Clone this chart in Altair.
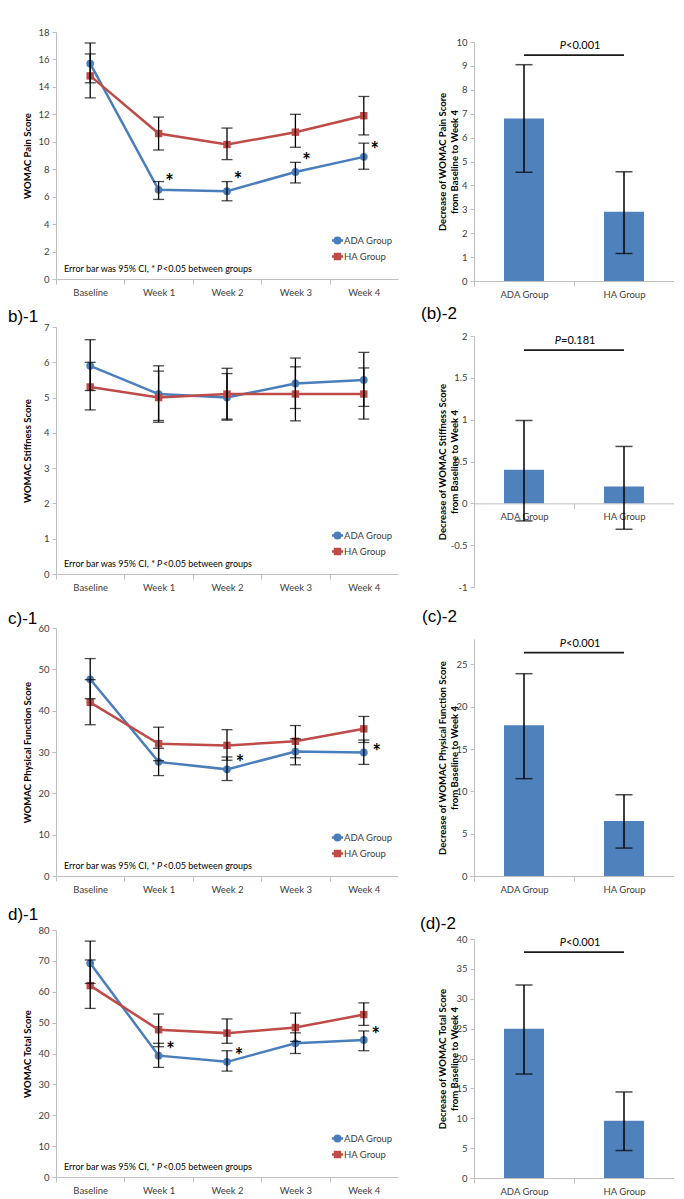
import altair as alt
import pandas as pd

categories = ["Baseline", "Week 1", "Week 2", "Week 3", "Week 4"]
groups = ["ADA Group", "HA Group"]

# (a)-1 WOMAC Pain
pain_ada = [15.7, 6.5, 6.4, 7.8, 8.9]
pain_ada_lo = [14.3, 5.8, 5.7, 7.0, 8.0]
pain_ada_hi = [17.2, 7.1, 7.1, 8.5, 9.9]
pain_ha = [14.8, 10.6, 9.8, 10.7, 11.9]
pain_ha_lo = [13.2, 9.4, 8.7, 9.6, 10.5]
pain_ha_hi = [16.4, 11.8, 11.0, 12.0, 13.3]
pain_star_cats = ["Week 1", "Week 2", "Week 3", "Week 4"]
pain_star_y = [7.4, 7.6, 9.0, 9.8]

# (b)-1 WOMAC Stiffness
stiff_ada = [5.9, 5.1, 5.0, 5.4, 5.5]
stiff_ada_lo = [5.2, 4.3, 4.36, 4.69, 4.75]
stiff_ada_hi = [6.64, 5.9, 5.68, 6.12, 6.28]
stiff_ha = [5.3, 5.0, 5.1, 5.1, 5.1]
stiff_ha_lo = [4.65, 4.35, 4.39, 4.34, 4.39]
stiff_ha_hi = [6.0, 5.75, 5.83, 5.87, 5.84]
stiff_star_cats = []
stiff_star_y = []

# (c)-1 WOMAC Physical Function
func_ada = [47.6, 27.6, 25.8, 30.1, 29.9]
func_ada_lo = [42.9, 24.3, 23.1, 26.9, 27.0]
func_ada_hi = [52.6, 30.9, 28.8, 33.2, 32.9]
func_ha = [42.0, 32.0, 31.6, 32.6, 35.6]
func_ha_lo = [36.6, 27.9, 28.0, 28.6, 32.3]
func_ha_hi = [47.5, 36.0, 35.4, 36.4, 38.6]
func_star_cats = ["Week 2", "Week 4"]
func_star_y = [28.5, 31.3]

# (d)-1 WOMAC Total
total_ada = [69.2, 39.3, 37.3, 43.3, 44.4]
total_ada_lo = [62.7, 35.5, 34.3, 40.0, 40.9]
total_ada_hi = [76.4, 43.3, 40.9, 46.7, 47.3]
total_ha = [62.0, 47.7, 46.6, 48.4, 52.6]
total_ha_lo = [54.6, 42.2, 43.3, 43.9, 49.1]
total_ha_hi = [70.3, 52.8, 51.2, 53.1, 56.4]
total_star_cats = ["Week 1", "Week 2", "Week 4"]
total_star_y = [42.8, 40.7, 47.7]

# Decrease from baseline to week 4 (bar panels)
pain_dec = [6.8, 2.9]
pain_dec_lo = [4.55, 1.15]
pain_dec_hi = [9.05, 4.57]
stiff_dec = [0.4, 0.2]
stiff_dec_lo = [-0.21, -0.31]
stiff_dec_hi = [0.99, 0.68]
func_dec = [17.8, 6.5]
func_dec_lo = [11.5, 3.3]
func_dec_hi = [23.9, 9.6]
total_dec = [25.0, 9.6]
total_dec_lo = [17.4, 4.6]
total_dec_hi = [32.3, 14.4]

p_line_y = {"pain": 9.45, "stiff": 1.83, "func": 26.4, "total": 37.8}
p_text = {"pain": "<0.001", "stiff": "=0.181", "func": "<0.001", "total": "<0.001"}

note_pre = "Error bar was 95% CI, * "
note_p = "P"
note_post = "<0.05 between groups"

# ---------------- style ----------------
BLUE = "#4a7ebb"
RED = "#be4b48"
BAR = "#4f81bd"
AX = "#bfbfbf"
LC = "#404040"
FONT = "Lato"
FS = 9.5
WL = 342
WR = 200
STEP_L = WL / 5

PATH_C = "M-1.4,0H1.4M0.69,0A0.69,0.69 0 1,1 -0.69,0A0.69,0.69 0 1,1 0.69,0Z"
PATH_S = "M-1.4,0H1.4M-0.62,-0.62H0.62V0.62H-0.62Z"

cs = alt.Scale(domain=groups, range=[BLUE, RED])


def one_row(**kw):
    return pd.DataFrame({k: [v] for k, v in kw.items()})


def panel_label(text, dx, dy):
    return alt.Chart(one_row(t=text)).mark_text(
        align="left", baseline="middle", fontSize=17, font="Liberation Sans", color="black"
    ).encode(x=alt.value(dx), y=alt.value(dy), text="t:N")


def line_panel(ada, ada_lo, ada_hi, ha, ha_lo, ha_hi, star_cats, star_y, ytitle,
               ymax, ystep, height, label=None, label_dy=0, star_dx=11):
    rows = []
    for i, c in enumerate(categories):
        rows.append(dict(cat=c, grp=groups[0], val=ada[i], lo=ada_lo[i], hi=ada_hi[i]))
        rows.append(dict(cat=c, grp=groups[1], val=ha[i], lo=ha_lo[i], hi=ha_hi[i]))
    df = pd.DataFrame(rows)

    xaxis = alt.Axis(title=None, labelAngle=0, tickOffset=-STEP_L / 2, labelOffset=STEP_L / 2,
                     domainColor=AX, tickColor=AX, tickSize=5, labelPadding=3,
                     labelFontSize=FS, labelColor=LC, labelFont=FONT)
    xs = alt.Scale(type="point", domain=categories, padding=0.5)

    def X(f):
        return alt.X(f, sort=categories, scale=xs, axis=xaxis)

    ys = alt.Scale(domain=[0, ymax], nice=False)
    yaxis = alt.Axis(values=list(range(0, ymax + 1, ystep)), title=ytitle, grid=False,
                     labelOverlap=False,
                     domainColor=AX, tickColor=AX, tickSize=4, labelPadding=3,
                     labelFontSize=FS, labelColor=LC, labelFont=FONT,
                     titleFont=FONT, titleFontSize=FS, titleFontWeight="bold", titleColor="black",
                     titleX=-29, titleY=height / 2, titleBaseline="middle")

    def Y(f):
        return alt.Y(f, scale=ys, axis=yaxis)

    base = alt.Chart(df).encode(x=X("cat:N"))
    ada_base = base.transform_filter(alt.datum.grp == groups[0])
    ha_base = base.transform_filter(alt.datum.grp == groups[1])
    line_a = ada_base.mark_line(strokeWidth=2.5, color=BLUE).encode(y=Y("val:Q"))
    line_h = ha_base.mark_line(strokeWidth=2.5, color=RED).encode(y=Y("val:Q"))
    ada_pts = ada_base.mark_point(shape="circle", filled=True, size=60, opacity=1, color=BLUE).encode(y=Y("val:Q"))
    ha_pts = ha_base.mark_point(shape="square", filled=True, size=55, opacity=1, color=RED).encode(y=Y("val:Q"))
    err = base.mark_rule(color="black", strokeWidth=1.3).encode(y=Y("lo:Q"), y2="hi:Q")
    cap_lo = base.mark_tick(color="black", size=11, thickness=1.3, orient="horizontal").encode(y=Y("lo:Q"))
    cap_hi = base.mark_tick(color="black", size=11, thickness=1.3, orient="horizontal").encode(y=Y("hi:Q"))

    leg = alt.Legend(title=None, orient="none", legendX=276, legendY=height - 44,
                     symbolSize=64, symbolStrokeWidth=2.5, symbolOpacity=1,
                     labelFontSize=FS, labelColor=LC, labelFont=FONT, labelOffset=1, rowPadding=0)
    legend_layer = base.transform_filter("false").mark_point(filled=True, size=64, strokeWidth=2.5).encode(
        y=Y("val:Q"),
        shape=alt.Shape("grp:N", scale=alt.Scale(domain=groups, range=[PATH_C, PATH_S]), legend=leg),
        fill=alt.Fill("grp:N", scale=cs, legend=leg),
        stroke=alt.Stroke("grp:N", scale=cs, legend=leg))

    note_x = 99
    nfs = 9
    nd = one_row(a=note_pre, b=note_p, c=note_post)
    n1 = alt.Chart(nd).mark_text(align="right", baseline="middle", fontSize=nfs, color="black", font=FONT).encode(
        x=alt.value(note_x), y=alt.value(height - 10), text="a:N")
    n2 = alt.Chart(nd).mark_text(align="left", baseline="middle", fontSize=nfs, color="black", font=FONT,
                                 fontStyle="italic", dx=2).encode(
        x=alt.value(note_x), y=alt.value(height - 10), text="b:N")
    n3 = alt.Chart(nd).mark_text(align="left", baseline="middle", fontSize=nfs, color="black", font=FONT,
                                 dx=8).encode(
        x=alt.value(note_x), y=alt.value(height - 10), text="c:N")

    layers = [line_a, line_h, ada_pts, ha_pts, err, cap_lo, cap_hi, n1, n2, n3]
    if star_cats:
        sd = pd.DataFrame({"cat": star_cats, "sy": star_y})
        stars = alt.Chart(sd).mark_text(text="*", fontSize=20, fontWeight="bold", color="black",
                                        baseline="middle", dx=star_dx, dy=6, font=FONT).encode(
            x=X("cat:N"), y=Y("sy:Q"))
        layers.append(stars)
    if label:
        layers.append(panel_label(label, -48, label_dy))
    layers.append(legend_layer)
    return alt.layer(*layers).properties(width=WL, height=height)


def bar_panel(vals, lo, hi, key, ytitle, ydomain, yvalues, height, label=None,
              label_dx=-52, label_dy=0, zero_axis=False, p_anchor=-8):
    df = pd.DataFrame({"grp": groups, "val": vals, "lo": lo, "hi": hi})
    xaxis_kw = dict(title=None, labelAngle=0, tickOffset=-WR / 4, labelOffset=WR / 4,
                    domainColor=AX, tickColor=AX, tickSize=5, labelPadding=3,
                    labelFontSize=FS, labelColor=LC, labelFont=FONT)
    if zero_axis:
        frac = (0 - ydomain[0]) / (ydomain[1] - ydomain[0])
        xaxis_kw["offset"] = -height * frac
    xaxis = alt.Axis(**xaxis_kw)
    xs = alt.Scale(domain=groups, paddingInner=0, paddingOuter=0)

    def X(f):
        return alt.X(f, sort=groups, scale=xs, axis=xaxis)

    ys = alt.Scale(domain=ydomain, nice=False, zero=False)
    yaxis = alt.Axis(values=yvalues, title=ytitle, grid=False, format="~r", labelOverlap=False,
                     labelExpr="replace(datum.label, '\u2212', '-')",
                     domainColor=AX, tickColor=AX, tickSize=4, labelPadding=3,
                     labelFontSize=FS, labelColor=LC, labelFont=FONT,
                     titleFont=FONT, titleFontSize=FS, titleFontWeight="bold", titleColor="black",
                     titleX=-32, titleY=height / 2, titleBaseline="middle", titleLineHeight=12)

    def Y(f):
        return alt.Y(f, scale=ys, axis=yaxis)

    base = alt.Chart(df).encode(x=X("grp:N"))
    bars = base.mark_bar(size=40, color=BAR).encode(y=Y("val:Q"))
    err = base.mark_rule(color="black", strokeWidth=1.5).encode(y=Y("lo:Q"), y2="hi:Q")
    cap_lo = base.mark_tick(color="black", size=17, thickness=1.5, orient="horizontal").encode(y=Y("lo:Q"))
    cap_hi = base.mark_tick(color="black", size=17, thickness=1.5, orient="horizontal").encode(y=Y("hi:Q"))

    pd_ = one_row(x1=groups[0], x2=groups[1], py=p_line_y[key], p="P", rest=p_text[key])
    pline = alt.Chart(pd_).mark_rule(color="#1a1a1a", strokeWidth=1.8).encode(
        x=X("x1:N"), x2="x2:N", y=Y("py:Q"))
    pt1 = alt.Chart(pd_).mark_text(align="right", baseline="middle", fontSize=11, fontStyle="italic",
                                   color="black", font=FONT, dy=-9).encode(
        x=alt.value(WR / 2 + p_anchor), y=Y("py:Q"), text="p:N")
    pt2 = alt.Chart(pd_).mark_text(align="left", baseline="middle", fontSize=11,
                                   color="black", font=FONT, dy=-9).encode(
        x=alt.value(WR / 2 + p_anchor), y=Y("py:Q"), text="rest:N")

    layers = [bars, err, cap_lo, cap_hi, pline, pt1, pt2]
    if label:
        layers.append(panel_label(label, label_dx, label_dy))
    return alt.layer(*layers).properties(width=WR, height=height)


def spacer(w, h):
    return alt.Chart(one_row(s="")).mark_text(opacity=0).encode(
        x=alt.value(0), y=alt.value(0), text="s:N").properties(width=w, height=h)


a1 = line_panel(pain_ada, pain_ada_lo, pain_ada_hi, pain_ha, pain_ha_lo, pain_ha_hi,
                pain_star_cats, pain_star_y, "WOMAC Pain Score", 18, 2, 247)
b1 = line_panel(stiff_ada, stiff_ada_lo, stiff_ada_hi, stiff_ha, stiff_ha_lo, stiff_ha_hi,
                stiff_star_cats, stiff_star_y, "WOMAC Stiffness Score", 7, 1, 247,
                label="b)-1", label_dy=-10)
c1 = line_panel(func_ada, func_ada_lo, func_ada_hi, func_ha, func_ha_lo, func_ha_hi,
                func_star_cats, func_star_y, "WOMAC Physical Function Score", 60, 10, 248,
                label="c)-1", label_dy=-9, star_dx=13)
d1 = line_panel(total_ada, total_ada_lo, total_ada_hi, total_ha, total_ha_lo, total_ha_hi,
                total_star_cats, total_star_y, "WOMAC Total Score", 80, 10, 247,
                label="d)-1", label_dy=-15, star_dx=12)

a2 = bar_panel(pain_dec, pain_dec_lo, pain_dec_hi, "pain",
               ["Decrease of WOMAC Pain Score", "from Baseline to Week 4"],
               [0, 10], list(range(0, 11)), 239)
b2 = bar_panel(stiff_dec, stiff_dec_lo, stiff_dec_hi, "stiff",
               ["Decrease of WOMAC Stiffness Score", "from Baseline to Week 4"],
               [-1, 2], [-1, -0.5, 0, 0.5, 1, 1.5, 2], 251, label="(b)-2",
               label_dx=-53, label_dy=-22, zero_axis=True, p_anchor=-13)
c2 = bar_panel(func_dec, func_dec_lo, func_dec_hi, "func",
               ["Decrease of WOMAC Physical Function Score", "from Baseline to Week 4"],
               [0, 28], [0, 5, 10, 15, 20, 25], 237, label="(c)-2",
               label_dx=-52, label_dy=-22)
d2 = bar_panel(total_dec, total_dec_lo, total_dec_hi, "total",
               ["Decrease of WOMAC Total Score", "from Baseline to Week 4"],
               [0, 40], list(range(0, 41, 5)), 239, label="(d)-2",
               label_dx=-54, label_dy=-15)

left = alt.vconcat(a1, spacer(WL, 48), b1, spacer(WL, 54), c1, spacer(WL, 54), d1,
                   spacing=0, bounds="flush").resolve_scale(
    shape="independent", fill="independent", stroke="independent")
right = alt.vconcat(spacer(WR, 10), a2, spacer(WR, 55), b2, spacer(WR, 52), c2, spacer(WR, 63), d2,
                    spacing=0, bounds="flush")

chart = alt.hconcat(left, right, spacing=22).properties(
    padding={"left": 0, "top": 18, "right": 0, "bottom": 0}
).configure(font=FONT).configure_view(strokeWidth=0)

chart.save("out.html", embed_options={"renderer": "svg", "actions": False})
